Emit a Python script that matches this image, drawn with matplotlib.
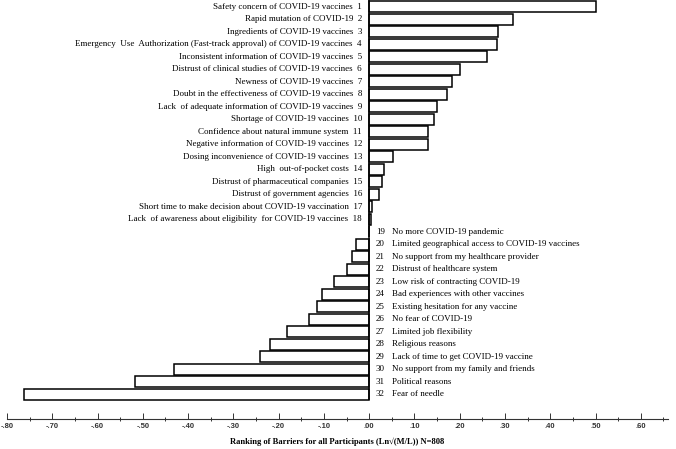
import matplotlib
matplotlib.use("Agg")
import matplotlib.pyplot as plt
import numpy as np

labels = [
    "Safety concern of COVID-19 vaccines",
    "Rapid mutation of COVID-19",
    "Ingredients of COVID-19 vaccines",
    "Emergency  Use  Authorization (Fast-track approval) of COVID-19 vaccines",
    "Inconsistent information of COVID-19 vaccines",
    "Distrust of clinical studies of COVID-19 vaccines",
    "Newness of COVID-19 vaccines",
    "Doubt in the effectiveness of COVID-19 vaccines",
    "Lack  of adequate information of COVID-19 vaccines",
    "Shortage of COVID-19 vaccines",
    "Confidence about natural immune system",
    "Negative information of COVID-19 vaccines",
    "Dosing inconvenience of COVID-19 vaccines",
    "High  out-of-pocket costs",
    "Distrust of pharmaceutical companies",
    "Distrust of government agencies",
    "Short time to make decision about COVID-19 vaccination",
    "Lack  of awareness about eligibility  for COVID-19 vaccines",
    "No more COVID-19 pandemic",
    "Limited geographical access to COVID-19 vaccines",
    "No support from my healthcare provider",
    "Distrust of healthcare system",
    "Low risk of contracting COVID-19",
    "Bad experiences with other vaccines",
    "Existing hesitation for any vaccine",
    "No fear of COVID-19",
    "Limited job flexibility",
    "Religious reasons",
    "Lack of time to get COVID-19 vaccine",
    "No support from my family and friends",
    "Political reasons",
    "Fear of needle",
]
values = [0.500, 0.318, 0.284, 0.282, 0.261, 0.201, 0.183, 0.171, 0.149, 0.144,
          0.129, 0.129, 0.053, 0.033, 0.029, 0.022, 0.007, 0.004,
          -0.001, -0.029, -0.038, -0.049, -0.078, -0.104, -0.116, -0.133,
          -0.182, -0.218, -0.242, -0.431, -0.518, -0.762]
tick_values = [-0.8, -0.7, -0.6, -0.5, -0.4, -0.3, -0.2, -0.1, 0.0, 0.1, 0.2, 0.3, 0.4, 0.5, 0.6]
xlabel = "Ranking of Barriers for all Participants (Ln\u221a(M/L)) N=808"

serif = ["Liberation Serif", "DejaVu Serif"]
fs = 6.45

fig = plt.figure(figsize=(6.76, 4.49), dpi=100)
ax = fig.add_axes([7 / 676, 30 / 449, 661 / 676, 419 / 449])

ranks = np.arange(1, len(values) + 1)
ax.barh(ranks, values, height=0.88, color="white", edgecolor="black", linewidth=1.1, zorder=2)
ax.vlines(0, 0.48, len(values) + 0.45, color="black", linewidth=1.1, zorder=3)

for r, lab, v in zip(ranks, labels, values):
    if v > 0:
        ax.text(-0.016, r, f"{lab}  {r}", ha="right", va="center",
                fontsize=fs, family=serif, color="black")
    else:
        ax.text(0.015, r, f"{r}", ha="left", va="center",
                fontsize=fs, family=serif, color="black")
        ax.text(0.051, r, lab, ha="left", va="center",
                fontsize=fs, family=serif, color="black")

ax.set_xlim(-0.80, 0.66)
ax.set_ylim(33.96, 0.48)

for s in ["top", "right", "left"]:
    ax.spines[s].set_visible(False)
ax.spines["bottom"].set_linewidth(0.8)
ax.spines["bottom"].set_color("#333333")
ax.set_yticks([])

def fmt(t):
    s = f"{t:.2f}"
    s = s.replace("0.", ".")
    return s

ax.set_xticks(tick_values)
ax.set_xticklabels([fmt(t) for t in tick_values], fontsize=5.5, fontweight="bold",
                   family=["Liberation Sans", "DejaVu Sans"], color="#333333")
ax.set_xticks(np.arange(-0.75, 0.66, 0.1), minor=True)
ax.tick_params(axis="x", which="major", direction="in", length=4, width=0.7, pad=3, color="#333333")
ax.tick_params(axis="x", which="minor", direction="inout", length=3, width=0.7, color="#333333")

ax.set_xlabel(xlabel, fontsize=6.1, fontweight="bold", family=serif, labelpad=5)

fig.savefig("out.png", dpi=100)
